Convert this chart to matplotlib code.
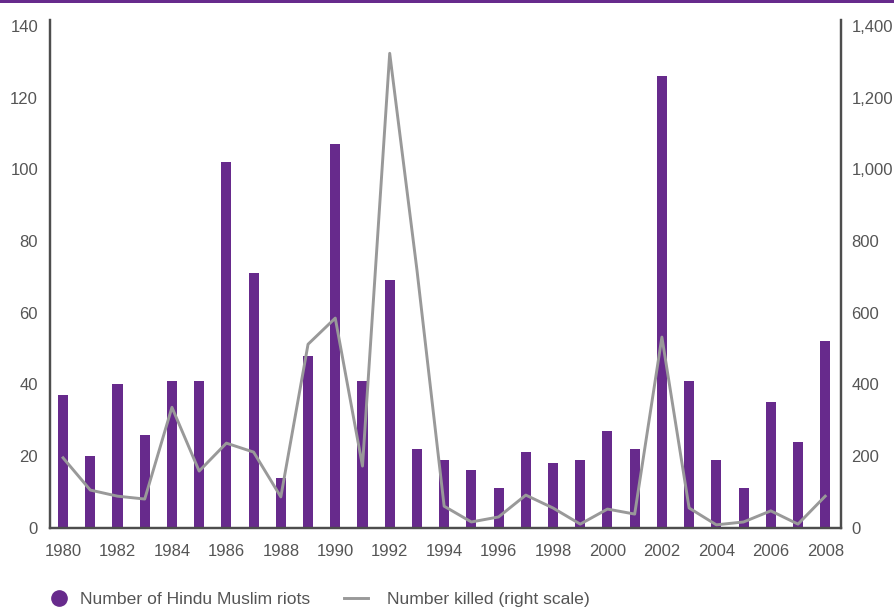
import matplotlib
matplotlib.use("Agg")
import matplotlib.pyplot as plt
from matplotlib.lines import Line2D
from matplotlib.patches import Rectangle
from matplotlib.ticker import FuncFormatter

plt.rcParams['font.family'] = ['Liberation Sans', 'DejaVu Sans']

years = list(range(1980, 2009))
riots = [37, 20, 40, 26, 41, 41, 102, 71, 14, 48, 107, 41, 69, 22, 19,
         16, 11, 21, 18, 19, 27, 22, 126, 41, 19, 11, 35, 24, 52]
killed = [195, 105, 88, 80, 336, 158, 236, 211, 86, 512, 585, 172, 1324, 720, 60,
          16, 30, 91, 55, 10, 52, 38, 532, 55, 8, 16, 47, 10, 88]

purple = '#672a8c'
grey = '#999999'
spine_col = '#4d4d4d'
text_col = '#555555'

fig = plt.figure(figsize=(8.95, 6.08), dpi=100)
ax = fig.add_axes([50/895, 1 - 527.7/608, (841-50)/895, (527.7-20)/608])
ax2 = ax.twinx()

ax.bar(years, riots, width=0.37, color=purple, zorder=2)
ax2.plot(years, killed, color=grey, lw=2.1, zorder=3)

ax.set_xlim(1979.52, 2008.58)
ax.set_ylim(0, 141.7)
ax2.set_ylim(0, 1417)
ax.set_yticks(range(0, 141, 20))
ax2.set_yticks(range(0, 1401, 200))
ax.set_xticks(range(1980, 2009, 2))
ax2.yaxis.set_major_formatter(FuncFormatter(lambda v, p: '{:,.0f}'.format(v)))

for a in (ax, ax2):
    for s in a.spines.values():
        s.set_color(spine_col)
        s.set_linewidth(1.6)
    a.spines['top'].set_visible(False)
    a.tick_params(length=0, labelsize=12, colors=text_col)
ax.tick_params(axis='y', pad=8.6)
ax2.tick_params(axis='y', pad=7.5)
ax.tick_params(axis='x', pad=12)
ax.set_zorder(1)
ax2.set_zorder(2)
ax2.patch.set_visible(False)

# purple band along the top edge
fig.add_artist(Rectangle((0, 1 - 3/608), 1, 3/608, transform=fig.transFigure,
                         color=purple, lw=0))

# legend, two parts so spacing can follow the original
leg_y = 1 - 599/608
leg1 = fig.legend([Line2D([], [], marker='o', ls='none', color=purple, markersize=11)],
                  ['Number of Hindu Muslim riots'], loc='center left',
                  bbox_to_anchor=(46.5/895, leg_y), frameon=False, fontsize=12.6,
                  labelcolor=text_col, handlelength=1.38, handletextpad=0.51,
                  borderpad=0, borderaxespad=0)
fig.legend([Line2D([], [], color=grey, lw=2.1)],
           ['Number killed (right scale)'], loc='center left',
           bbox_to_anchor=(344/895, leg_y), frameon=False, fontsize=12.6,
           labelcolor=text_col, handlelength=1.38, handletextpad=1.08,
           borderpad=0, borderaxespad=0)

fig.savefig('out.png', dpi=100)
